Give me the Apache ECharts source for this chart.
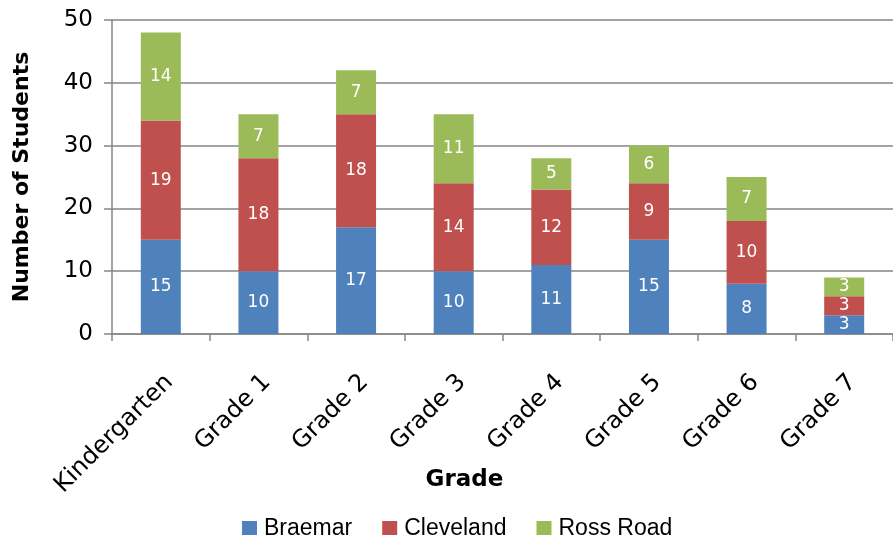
<!DOCTYPE html>
<html>
<head>
<meta charset="utf-8">
<script src="https://cdn.jsdelivr.net/npm/echarts@6/dist/echarts.min.js"></script>
<style>html,body{margin:0;padding:0;background:#fff;}#c{width:893px;height:535px;}</style>
</head>
<body>
<div id="c"></div>
<script>
const categories = ['Kindergarten','Grade 1','Grade 2','Grade 3','Grade 4','Grade 5','Grade 6','Grade 7'];
const braemar = [15,10,17,10,11,15,8,3];
const cleveland = [19,18,18,14,12,9,10,3];
const rossRoad = [14,7,7,11,5,6,7,3];
const yTicks = {min:0, max:50, interval:10};

const font = '"DejaVu Sans", sans-serif';
const chart = echarts.init(document.getElementById('c'));
function s(name, data, color){
  return {
    name, type:'bar', stack:'total', data, barWidth:40,
    itemStyle:{color},
    label:{show:true, position:'inside', color:'#fff', fontSize:17, fontFamily:font}
  };
}
chart.setOption({
  animation:false,
  grid:{left:112, top:20, right:-9, bottom:201, containLabel:false},
  legend:{
    top:512, left:237, itemWidth:15, itemHeight:15, itemGap:30,
    icon:'rect',
    textStyle:{fontSize:23, fontFamily:'"Liberation Sans", Arial, sans-serif', color:'#000', padding:[0,0,0,2]},
    data:['Braemar','Cleveland','Ross Road']
  },
  xAxis:{
    type:'category', data:categories,
    name:'Grade', nameLocation:'middle', nameGap:135, nameMoveOverlap:false,
    nameTextStyle:{fontSize:23, fontWeight:'bold', color:'#000', fontFamily:font, padding:[0,76,0,0]},
    axisLine:{lineStyle:{color:'#868686', width:1.5}},
    axisTick:{show:true, length:7, lineStyle:{color:'#868686', width:1.5}},
    axisLabel:{rotate:45, fontSize:24, color:'#000', fontFamily:font, margin:36, align:'right', verticalAlign:'top'}
  },
  yAxis:{
    type:'value', min:yTicks.min, max:yTicks.max, interval:yTicks.interval,
    name:'Number of Students', nameLocation:'middle', nameGap:79, nameMoveOverlap:false,
    nameTextStyle:{fontSize:22, fontWeight:'bold', color:'#000', fontFamily:font},
    axisLine:{show:true, lineStyle:{color:'#868686', width:1.5}},
    axisTick:{show:true, length:8, lineStyle:{color:'#868686', width:1.5}},
    axisLabel:{fontSize:23, color:'#000', fontFamily:font, margin:19},
    splitLine:{lineStyle:{color:'#868686', width:1.5}}
  },
  series:[
    s('Braemar', braemar, '#4F81BD'),
    s('Cleveland', cleveland, '#C0504D'),
    s('Ross Road', rossRoad, '#9BBB59')
  ]
});
</script>
</body>
</html>
